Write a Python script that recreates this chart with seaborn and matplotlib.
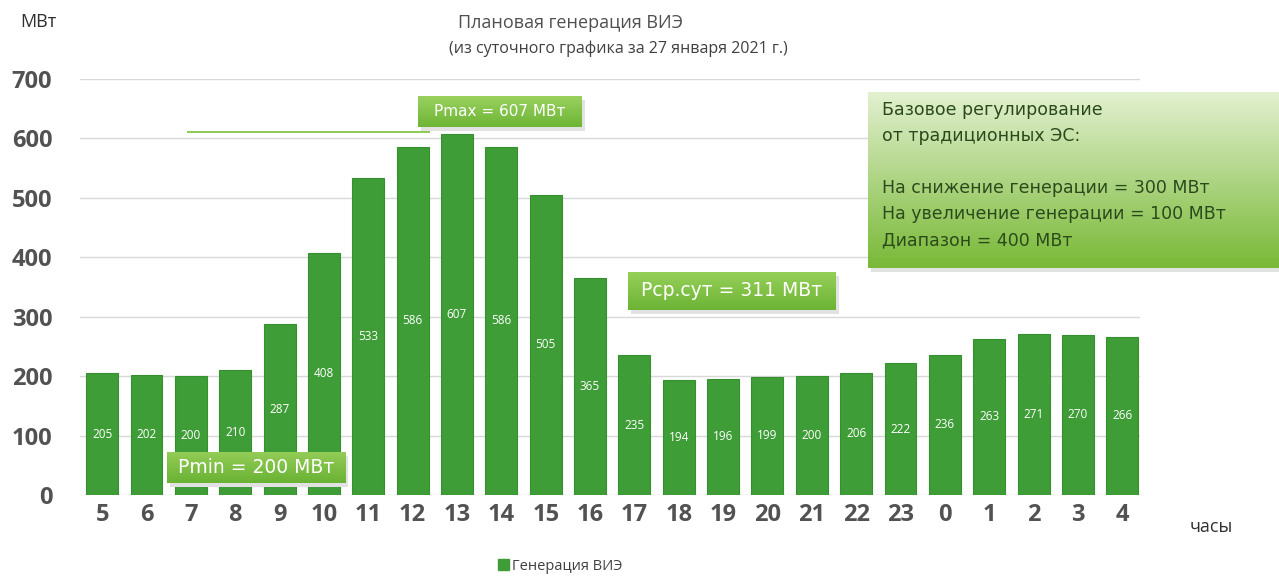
import numpy as np
import pandas as pd
import matplotlib
matplotlib.use("Agg")
import matplotlib.pyplot as plt
import seaborn as sns
from matplotlib.colors import LinearSegmentedColormap
from matplotlib.patches import Patch

# data
hours = ["5", "6", "7", "8", "9", "10", "11", "12", "13", "14", "15", "16",
         "17", "18", "19", "20", "21", "22", "23", "0", "1", "2", "3", "4"]
generation = [205, 202, 200, 210, 287, 408, 533, 586, 607, 586, 505, 365,
              235, 194, 196, 199, 200, 206, 222, 236, 263, 271, 270, 266]
p_max = 607
p_min = 200
p_avg = 311
info_lines = ["Базовое регулирование", "от традиционных ЭС:", "",
              "На снижение генерации = 300 МВт",
              "На увеличение генерации = 100 МВт",
              "Диапазон = 400 МВт"]

W, H = 1279, 577
sns.set_style("white")
plt.rcParams['font.family'] = ['Open Sans', 'DejaVu Sans']

fig = plt.figure(figsize=(W / 100, H / 100), dpi=100)
ax = fig.add_axes([80 / W, 1 - 495 / H, (1140 - 80) / W, (495 - 79) / H])

df = pd.DataFrame({"hour": hours, "value": generation})
sns.barplot(data=df, x="hour", y="value", order=hours, color="#3f9d37",
            width=0.72, edgecolor="#368f30", linewidth=0.8, saturation=1,
            ax=ax, zorder=3)
ax.bar_label(ax.containers[0], label_type="center", color="white", fontsize=8.5)

ax.set_ylim(0, 700)
ax.set_xlim(-0.5, 23.4)
ax.set_yticks(range(0, 701, 100))
ax.yaxis.grid(True, color="#d8d8d8", linewidth=1, zorder=0)
for s in ax.spines.values():
    s.set_visible(False)
ax.set_xlabel("")
ax.set_ylabel("")
ax.tick_params(axis="y", length=0, pad=20, labelsize=17, labelcolor="#525252")
ax.tick_params(axis="x", length=0, pad=6, labelsize=17, labelcolor="#525252")
for t in ax.get_xticklabels() + ax.get_yticklabels():
    t.set_fontweight("bold")

# max level line
ax.hlines(p_max + 4, 1.92, 7.4, color="#86c446", linewidth=1.3, zorder=4)

fig.text(570 / W, 1 - 23 / H, "Плановая генерация ВИЭ", ha="center", va="center",
         fontsize=13, color="#505050")
fig.text(618 / W, 1 - 49 / H, "(из суточного графика за 27 января 2021 г.)",
         ha="center", va="center", fontsize=11.5, color="#404040")
fig.text(38 / W, 1 - 22 / H, "МВт", ha="center", va="center", fontsize=13, color="#303030")
fig.text(1190 / W, 1 - 527 / H, "часы", ha="left", va="center", fontsize=13, color="#303030")

fig.legend(handles=[Patch(color="#3f9d37", label="Генерация ВИЭ")],
           loc="center", bbox_to_anchor=(560 / W, 1 - 566 / H), frameon=False,
           fontsize=10.5, handlelength=0.8, handleheight=0.8, handletextpad=0.2,
           labelcolor="#404040")


def green_box(x0, y0, x1, y1, top, bottom):
    sh = fig.add_axes([(x0 + 3) / W, 1 - (y1 + 4) / H, (x1 - x0) / W, (y1 - y0) / H])
    sh.set_facecolor("#e2e2e2")
    sh.set_xticks([])
    sh.set_yticks([])
    for s in sh.spines.values():
        s.set_visible(False)
    bx = fig.add_axes([x0 / W, 1 - y1 / H, (x1 - x0) / W, (y1 - y0) / H])
    cmap = LinearSegmentedColormap.from_list("g", [top, bottom])
    bx.imshow(np.linspace(0, 1, 64)[:, None], aspect="auto", cmap=cmap,
              extent=[0, 1, 0, 1])
    bx.axis("off")
    return bx


b = green_box(418, 96, 582, 127, "#9ad15e", "#6db536")
b.text(0.5, 0.5, f"Pmax = {p_max} МВт", ha="center", va="center",
       color="white", fontsize=11, family="DejaVu Sans")

b = green_box(167, 452, 345, 483, "#93cc56", "#69b234")
b.text(0.5, 0.5, f"Pmin = {p_min} МВт", ha="center", va="center",
       color="white", fontsize=13.5, family="DejaVu Sans")

b = green_box(628, 272, 836, 310, "#96cf58", "#6cb435")
b.text(0.5, 0.5, f"Pср.сут = {p_avg} МВт", ha="center", va="center",
       color="white", fontsize=13.5, family="DejaVu Sans")

b = green_box(868, 92, 1279, 268, "#e2f0cf", "#79b937")
ys = [110, 136, 162, 188, 214, 240]
for line, y in zip(info_lines, ys):
    b.text(14 / 411, 1 - (y - 92) / 176, line, ha="left", va="center",
           color="#2b4a1c", fontsize=12.5, family="DejaVu Sans")

fig.savefig("out.png", dpi=100)
